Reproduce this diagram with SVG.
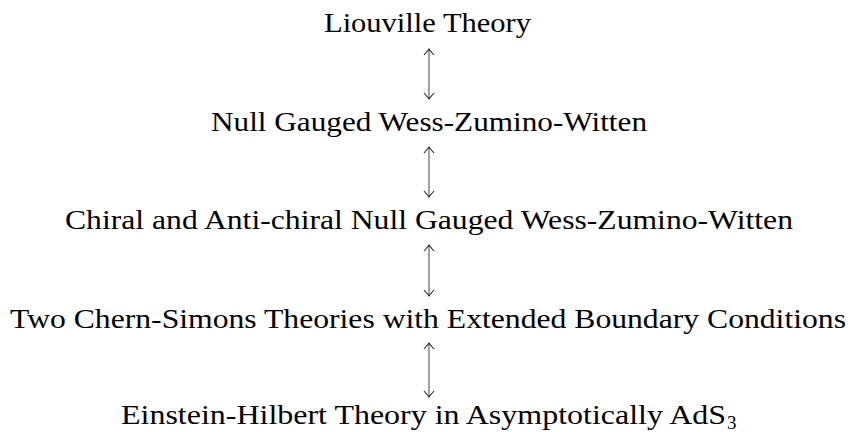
<svg xmlns="http://www.w3.org/2000/svg" width="848" height="432" viewBox="0 0 848 432">
<style>
.t{font-family:"Liberation Serif","DejaVu Serif",serif;font-size:27px;fill:#000}
.s{font-family:"Liberation Serif","DejaVu Serif",serif;font-size:19px;fill:#000}
.c{stroke:#666;stroke-width:1.2;fill:none}
</style>
<defs>
<marker id="ah" markerUnits="userSpaceOnUse" markerWidth="14" markerHeight="14" viewBox="-7 -7 14 14" refX="0" refY="0" orient="auto-start-reverse">
<path d="M-6,-5 Q-1.5,-1 0,0 Q-1.5,1 -6,5" stroke="#222" stroke-width="1.1" fill="none"/>
</marker>
</defs>
<rect width="848" height="432" fill="#fff"/>
<g id="n1"><text class="t" x="324" y="32" textLength="207" lengthAdjust="spacingAndGlyphs">Liouville Theory</text></g>
<g id="n2"><text class="t" x="211" y="131" textLength="436" lengthAdjust="spacingAndGlyphs">Null Gauged Wess-Zumino-Witten</text></g>
<g id="n3"><text class="t" x="65" y="229" textLength="728" lengthAdjust="spacingAndGlyphs">Chiral and Anti-chiral Null Gauged Wess-Zumino-Witten</text></g>
<g id="n4"><text class="t" x="10" y="328" textLength="836" lengthAdjust="spacingAndGlyphs">Two Chern-Simons Theories with Extended Boundary Conditions</text></g>
<g id="n5"><text class="t" x="121" y="424" textLength="605" lengthAdjust="spacingAndGlyphs">Einstein-Hilbert Theory in Asymptotically AdS</text><text class="s" x="727" y="429">3</text></g>
<g id="connectors">
<line class="c" x1="429" y1="49" x2="429" y2="99" marker-start="url(#ah)" marker-end="url(#ah)"/>
<line class="c" x1="429" y1="147" x2="429" y2="197" marker-start="url(#ah)" marker-end="url(#ah)"/>
<line class="c" x1="429" y1="245" x2="429" y2="296" marker-start="url(#ah)" marker-end="url(#ah)"/>
<line class="c" x1="429" y1="343" x2="429" y2="397" marker-start="url(#ah)" marker-end="url(#ah)"/>
</g>
</svg>
